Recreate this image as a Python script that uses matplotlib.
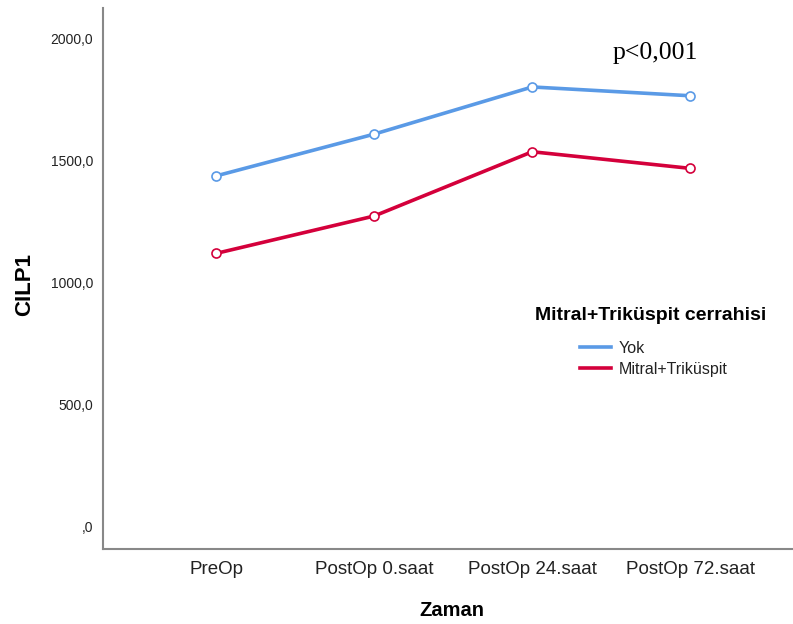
import numpy as np
import matplotlib
matplotlib.use("Agg")
import matplotlib.pyplot as plt

# ── data ──────────────────────────────────────────────────────────────────
zaman = ["PreOp", "PostOp 0.saat", "PostOp 24.saat", "PostOp 72.saat"]
yok = [1436, 1607, 1800, 1764]
mitral_trikuspit = [1119, 1272, 1535, 1467]
y_ticks = [0, 500, 1000, 1500, 2000]
y_tick_labels = [",0", "500,0", "1000,0", "1500,0", "2000,0"]

plt.rcParams["font.family"] = ["Liberation Sans", "DejaVu Sans"]

W, H = 793, 624
fig = plt.figure(figsize=(W / 100, H / 100), dpi=100)
ax = fig.add_axes([103 / W, 1 - 549 / H, 1 - 103 / W, (549 - 8) / H])

x = np.arange(len(zaman))
blue = "#5A9AE6"
red = "#D4003B"

ax.plot(x, yok, color=blue, lw=2.6, marker="o", ms=6.5, mfc="white",
        mec=blue, mew=1.2, label="Yok")
ax.plot(x, mitral_trikuspit, color=red, lw=2.6, marker="o", ms=6.5, mfc="white",
        mec=red, mew=1.2, label="Mitral+Triküspit")

ax.set_xlim(-0.715, 3.65)
ax.set_ylim(-90, 2123)
ax.set_xticks(x)
ax.set_xticklabels(zaman, fontsize=13.5, color="#222222")
ax.set_yticks(y_ticks)
ax.set_yticklabels(y_tick_labels, fontsize=10, color="#222222")
ax.tick_params(length=0, pad=7)
ax.tick_params(axis="x", pad=9)

for side in ["top", "right"]:
    ax.spines[side].set_visible(False)
for side in ["left", "bottom"]:
    ax.spines[side].set_color("#888888")
    ax.spines[side].set_linewidth(1.5)

ax.set_xlabel("Zaman", fontsize=14.5, fontweight="bold")
ax.xaxis.set_label_coords((452 - 103) / (W - 103), -(611 - 549) / 541)
ax.set_ylabel("CILP1", fontsize=16, fontweight="bold")
ax.yaxis.set_label_coords((25 - 103) / (W - 103), (549 - 285) / 541)
ax.xaxis.label.set_va("center")
ax.yaxis.label.set_va("center")

# p value annotation
fig.text(655 / W, 1 - 53 / H, "p<0,001", fontsize=18.5,
         family="Liberation Serif", ha="center", va="center")

# legend title drawn separately so the gap matches the reference
fig.text(651 / W, 1 - 315 / H, "Mitral+Triküspit cerrahisi", fontsize=14,
         fontweight="bold", ha="center", va="center")
leg = ax.legend(loc="upper left", bbox_to_anchor=(580 / W, 1 - 341 / H),
                bbox_transform=fig.transFigure, frameon=False,
                fontsize=11.5, handlelength=1.95, handletextpad=0.45,
                labelspacing=0.35, borderaxespad=0, borderpad=0)
for h in leg.get_lines():
    h.set_marker("")
for t in leg.get_texts():
    t.set_color("#222222")

fig.savefig("out.png", dpi=100)
